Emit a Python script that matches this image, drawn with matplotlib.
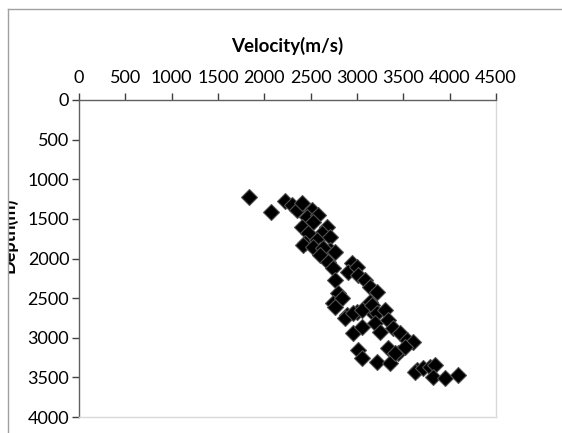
import matplotlib
matplotlib.use("Agg")
import matplotlib.pyplot as plt
from matplotlib.lines import Line2D
from matplotlib.patches import Rectangle

# velocity (m/s) and depth (m)
velocity = [1838, 2069, 2223, 2295, 2349, 2403, 2511, 2457, 2579, 2525,
            2403, 2673, 2619, 2474, 2439, 2565, 2708, 2708, 2600, 2420,
            2528, 2636, 2762, 2600, 2690, 2744, 2762, 2798, 2744, 2835,
            2942, 2906, 2996, 3014, 3086, 3140, 3212, 2888, 2996, 3140,
            3175, 2762, 2870, 2960, 3050, 3158, 3212, 3302, 2960, 3050,
            3194, 3248, 3337, 3391, 3464, 3536, 3607, 3014, 3050, 3212,
            3337, 3356, 3445, 3644, 3410, 3518, 3625, 3715, 3787, 3841,
            3823, 3949, 4093]
depth = [1220, 1417, 1271, 1325, 1388, 1304, 1388, 1473, 1451, 1536,
         1599, 1599, 1682, 1682, 1808, 1767, 1725, 1893, 1893, 1830,
         1851, 1872, 1914, 1956, 2041, 2124, 2272, 2439, 2566, 2502,
         2061, 2167, 2104, 2209, 2272, 2356, 2419, 2713, 2672, 2545,
         2692, 2609, 2755, 2692, 2650, 2587, 2692, 2650, 2944, 2861,
         2818, 2924, 2776, 2881, 2944, 3029, 3050, 3155, 3260, 3303,
         3134, 3323, 3197, 3407, 3197, 3113, 3429, 3386, 3366, 3344,
         3492, 3512, 3471]

x_ticks = [0, 500, 1000, 1500, 2000, 2500, 3000, 3500, 4000, 4500]
y_ticks = [0, 500, 1000, 1500, 2000, 2500, 3000, 3500, 4000]

plt.rcParams['font.family'] = ['Lato', 'DejaVu Sans']

fig = plt.figure(figsize=(5.62, 4.33), dpi=100)
W, H = 562, 433
ax = fig.add_axes([79 / W, 1 - 417 / H, (496 - 79) / W, (417 - 100) / H])

ax.plot(velocity, depth, linestyle='none', marker='D', markersize=8.6,
        markerfacecolor='black', markeredgecolor='#505050',
        markeredgewidth=0.8, clip_on=False)

ax.set_xlim(0, 4500)
ax.set_ylim(4000, 0)
ax.set_xticks(x_ticks)
ax.set_yticks(y_ticks)
ax.xaxis.tick_top()
ax.xaxis.set_label_position('top')
ax.tick_params(axis='both', labelsize=13, colors='#404040', labelcolor='black',
               length=5, width=1, direction='out')
ax.tick_params(axis='x', pad=5)
ax.tick_params(axis='y', pad=2)
ax.set_xlabel('Velocity(m/s)', fontsize=13.5, fontweight='bold', labelpad=13)

for side in ('left', 'top'):
    ax.spines[side].set_color('#606060')
    ax.spines[side].set_linewidth(1)
for side in ('right', 'bottom'):
    ax.spines[side].set_color('#d9d9d9')
    ax.spines[side].set_linewidth(1)

# depth label, partly hidden behind the chart frame
fig.text(8 / W, 1 - 235 / H, 'Depth(m)', rotation=90, ha='center', va='center',
         fontsize=13, fontweight='bold')
fig.patches.append(Rectangle((0, 0), 8 / W, 1, transform=fig.transFigure,
                             facecolor='white', edgecolor='none', zorder=10))
fig.lines.append(Line2D([8 / W, 8 / W], [0, 1 - 9 / H], transform=fig.transFigure,
                        color='#a0a0a0', linewidth=1, zorder=11))
fig.lines.append(Line2D([8 / W, 1], [1 - 9 / H, 1 - 9 / H], transform=fig.transFigure,
                        color='#a0a0a0', linewidth=1, zorder=11))

fig.savefig('out.png', dpi=100)
